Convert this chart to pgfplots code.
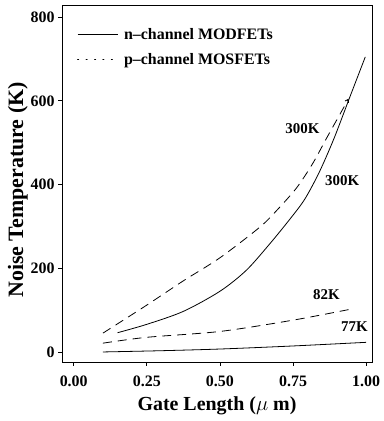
\documentclass[border=0pt]{standalone}
\usepackage{pgfplots}
\pgfplotsset{compat=1.18}
\usepackage{fontspec}
\setmainfont{Liberation Serif}
\usetikzlibrary{arrows.meta}
\begin{document}
\begin{tikzpicture}
\begin{axis}[
  scale only axis, width=310bp, height=357bp,
  xmin=-0.04, xmax=1.02, ymin=-24, ymax=829,
  xtick={0,0.25,0.5,0.75,1}, ytick={0,200,400,600,800},
  xticklabel style={yshift=-6bp, /pgf/number format/.cd,fixed,fixed zerofill,precision=2},
  /pgf/number format/assume math mode=true,
  tick align=outside, tick style={black, line width=0.8pt}, major tick length=4pt,
  xtick pos=bottom, ytick pos=left,
  axis line style={line width=0.9pt},
  tick label style={font=\bfseries\fontsize{16}{18}\selectfont},
  xlabel={Gate Length ($\mu$ m)}, ylabel={Noise Temperature (K)},
  xlabel style={font=\bfseries\fontsize{20}{22}\selectfont, yshift=-4bp},
  ylabel style={font=\bfseries\fontsize{22}{24}\selectfont, at={(ticklabel cs:0.482)}},
  ylabel shift=-4bp,
  legend style={draw=none, fill=none, at={(0.048,0.94)}, anchor=north west, inner sep=0pt, row sep=8pt, font=\bfseries\fontsize{16}{18}\selectfont, nodes={inner xsep=6bp}},
  legend cell align=left,
  legend image code/.code={\draw[#1] (0bp,0bp) -- (40bp,0bp);},
]
\addlegendimage{black, solid, line width=0.8pt}
\addlegendentry{n--channel MODFETs}
\addlegendimage{black, line width=1pt, dash pattern=on 1pt off 7.5pt, line cap=round}
\addlegendentry{p--channel MOSFETs}
% n-channel 300K
\addplot[black, line width=0.8pt, smooth, forget plot] coordinates {
(0.15,46)(0.25,66)(0.375,97)(0.5,145)(0.59,195)(0.67,258)(0.74,318)(0.79,365)(0.84,430)(0.89,510)(0.942,605)(0.997,705)};
% p-channel 300K
\addplot[black, line width=0.8pt, dash pattern=on 9pt off 6pt, smooth, forget plot, -{Straight Barb[length=3pt,width=4pt]}] coordinates {
(0.1,45)(0.25,112)(0.375,170)(0.5,225)(0.636,298)(0.694,338)(0.762,392)(0.817,450)(0.864,510)(0.908,565)(0.94,605)};
% p-channel 82K
\addplot[black, line width=0.8pt, dash pattern=on 9pt off 6pt, smooth, forget plot] coordinates {
(0.1,21)(0.25,35)(0.5,49)(0.75,76)(0.953,103)};
% n-channel 77K
\addplot[black, line width=0.8pt, smooth, forget plot] coordinates {
(0.1,0)(0.3,3)(0.5,7)(0.74,14)(1.0,23)};
\node[font=\bfseries\fontsize{15}{17}\selectfont] at (axis cs:0.782,533) {300K};
\node[font=\bfseries\fontsize{15}{17}\selectfont] at (axis cs:0.918,410) {300K};
\node[font=\bfseries\fontsize{15}{17}\selectfont] at (axis cs:0.864,136) {82K};
\node[font=\bfseries\fontsize{15}{17}\selectfont] at (axis cs:0.96,60) {77K};
\end{axis}
\pgfresetboundingbox
\path (current axis.south west) ++(-62bp,-59bp) rectangle ++(384bp,421bp);
\end{tikzpicture}
\end{document}
